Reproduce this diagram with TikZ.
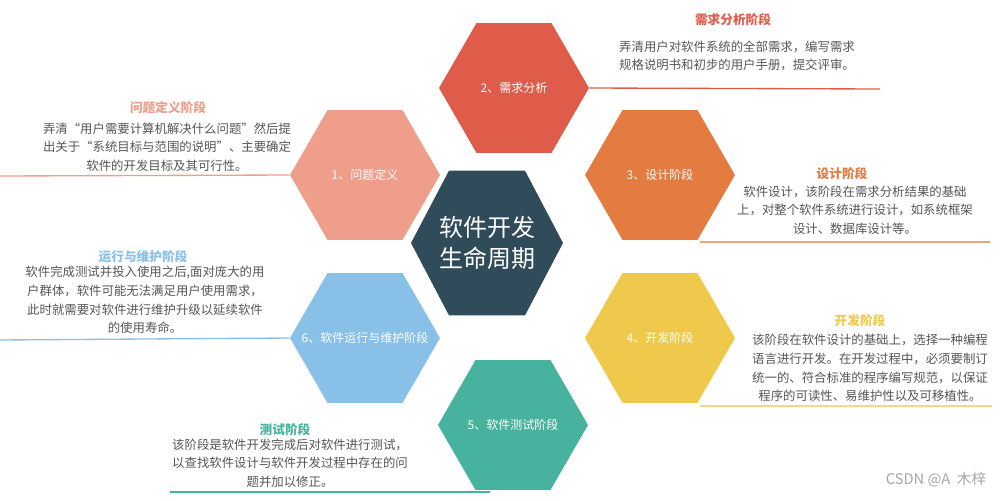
\documentclass[tikz,border=0pt]{standalone}
\usepackage{fontspec}
\setmainfont{Noto Sans CJK SC}
\usetikzlibrary{shapes.geometric}
\definecolor{cSal}{HTML}{EE9E8A}
\definecolor{cRed}{HTML}{E05C4A}
\definecolor{cOra}{HTML}{E47B40}
\definecolor{cYel}{HTML}{EFC94C}
\definecolor{cTea}{HTML}{47B29D}
\definecolor{cBlu}{HTML}{88C0E8}
\definecolor{cCen}{HTML}{304B59}
\definecolor{cTxt}{HTML}{555555}
\tikzset{
  hexa/.style={regular polygon, regular polygon sides=6, minimum size=112.5pt, inner sep=0pt, fill=#1, draw=none},
  hlab/.style={text=white, font=\fontsize{9}{11}\selectfont, inner sep=0pt},
  ttl/.style={text=#1, font=\fontsize{9.5}{12}\bfseries\selectfont},
  body/.style={text=cTxt, font=\fontsize{9.3}{14}\selectfont, align=center, inner sep=0pt},
  uline/.style={draw=#1, line width=1pt}
}
\begin{document}
\begin{tikzpicture}[x=0.75pt,y=-0.75pt]
\useasboundingbox (0,0) rectangle (1003,500);
% hexagons
\node[hexa=cCen, minimum size=114pt, yscale=1.1] (c) at (487,243) {};
\node[hexa=cSal] (h1) at (365,175) {};
\node[hexa=cRed] (h2) at (514,88) {};
\node[hexa=cOra] (h3) at (660,175) {};
\node[hexa=cYel] (h4) at (660,338) {};
\node[hexa=cTea] (h5) at (513,425) {};
\node[hexa=cBlu] (h6) at (365,338) {};
\node[hlab, font=\fontsize{18}{23}\selectfont, align=center] (cl) at (c) {软件开发\\生命周期};
\node[hlab] (h1l) at (h1) {1、问题定义};
\node[hlab] (h2l) at (h2) {2、需求分析};
\node[hlab] (h3l) at (h3) {3、设计阶段};
\node[hlab] (h4l) at (h4) {4、开发阶段};
\node[hlab] (h5l) at (h5) {5、软件测试阶段};
\node[hlab] (h6l) at (h6) {6、软件运行与维护阶段};
% lines
\coordinate (l1) at (0,176);
\draw[uline=cSal] (l1) -- (h1.west);
\coordinate (l2) at (880,89);
\draw[uline=cRed] (h2.east) -- (l2);
\coordinate (l3a) at (700,242); \coordinate (l3b) at (990,242);
\draw[uline=cOra!70] (l3a) -- (l3b);
\coordinate (l4a) at (700,406); \coordinate (l4b) at (992,406);
\draw[uline=cYel!70] (l4a) -- (l4b);
\coordinate (l5a) at (170,492); \coordinate (l5b) at (490,492);
\draw[uline=cTea] (l5a) -- (l5b);
\coordinate (l6) at (0,340);
\draw[uline=cBlu] (l6) -- (h6.west);
% texts
\node[ttl=cSal] (t1) at (168,108) {问题定义阶段};
\node[body] (b1) at (167,147) {弄清“用户需要计算机解决什么问题”然后提\\出关于“系统目标与范围的说明”、主要确定\\软件的开发目标及其可行性。};
\node[ttl=cRed] (t2) at (733,20) {需求分析阶段};
\node[body, align=left] (b2) at (737,56) {弄清用户对软件系统的全部需求，编写需求\\规格说明书和初步的用户手册，提交评审。};
\node[ttl=cOra] (t3) at (842,174) {设计阶段};
\node[body] (b3) at (855,210) {软件设计，该阶段在需求分析结果的基础\\上，对整个软件系统进行设计，如系统框架\\设计、数据库设计等。};
\node[ttl=cBlu] (t6) at (143,257) {运行与维护阶段};
\node[body] (b6) at (145,300) {软件完成测试并投入使用之后,面对庞大的用\\户群体，软件可能无法满足用户使用需求，\\此时就需要对软件进行维护升级以延续软件\\的使用寿命。};
\node[ttl=cYel] (t4) at (860,321) {开发阶段};
\node[body] (b4) at (870,368) {该阶段在软件设计的基础上，选择一种编程\\语言进行开发。在开发过程中，必须要制订\\统一的、符合标准的程序编写规范，以保证\\程序的可读性、易维护性以及可移植性。};
\node[ttl=cTea] (t5) at (285,430) {测试阶段};
\node[body] (b5) at (290,463) {该阶段是软件开发完成后对软件进行测试，\\以查找软件设计与软件开发过程中存在的问\\题并加以修正。};
\node[text=gray!70, font=\fontsize{11}{13}\selectfont] (wm) at (936,480) {CSDN @A\ \ 木梓};
\end{tikzpicture}
\end{document}
